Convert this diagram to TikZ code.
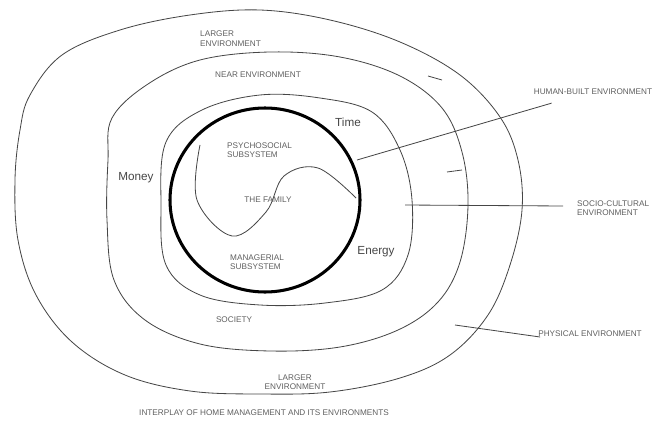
\documentclass[tikz,border=0pt]{standalone}
\usepackage{fontspec}
\setmainfont{Liberation Sans}
\usepackage{tikz}
\usetikzlibrary{positioning,calc}
\definecolor{traitC}{RGB}{70,70,70}
\definecolor{texteC}{RGB}{95,95,95}
\tikzset{
  zone/.style={draw=traitC, line width=0.7pt, smooth cycle, tension=0.6},
  cercle/.style={draw=black, line width=2.6pt},
  etiq/.style={font=\fontsize{7}{8}\selectfont, text=texteC, inner sep=0pt, align=left},
  grand/.style={font=\fontsize{10}{11}\selectfont, text=traitC, inner sep=0pt},
  fil/.style={draw=traitC, line width=0.7pt},
}

\begin{document}
\begin{tikzpicture}[x=0.03cm, y=-0.03cm]
  \useasboundingbox (0,0) rectangle (664,424);
  % environments
  \draw[zone] plot coordinates {(30,95) (62,55) (120,30) (190,15) (260,10) (330,20) (400,42)
    (460,75) (500,117) (518,160) (522,210) (510,265) (488,315) (450,355) (400,378) (330,392)
    (260,394) (190,391) (125,375) (72,342) (36,295) (18,240) (15,180) (20,130)};
  \draw[zone] plot coordinates {(112,118) (148,84) (200,60) (270,52) (340,57) (400,76) (442,108)
    (462,152) (468,205) (460,262) (438,302) (398,330) (340,347) (270,351) (200,344) (145,320)
    (114,280) (107,220) (108,160)};
  \draw[zone] plot coordinates {(166,142) (202,110) (260,95) (320,98) (372,112) (400,150)
    (412,200) (408,255) (382,290) (325,303) (260,305) (200,295) (166,265) (161,205)};
  % family
  \draw[cercle] (265,200) ellipse [x radius=95, y radius=92];
  \draw[fil] plot[smooth, tension=0.6] coordinates {(200,145) (197,200) (232,236) (266,212)
    (284,176) (318,168) (356,198)};
  % labels
  \node[etiq, anchor=north west] (largerA) at (200,31) {LARGER\\ENVIRONMENT};
  \node[etiq] (near) at (258,75) {NEAR ENVIRONMENT};
  \node[etiq, anchor=west] (psycho) at (227,150) {PSYCHOSOCIAL\\SUBSYSTEM};
  \node[etiq] (family) at (268,200) {THE FAMILY};
  \node[etiq, anchor=west] (manag) at (230,262) {MANAGERIAL\\SUBSYSTEM};
  \node[grand] (money) at (136,178) {Money};
  \node[grand] (time) at (348,122) {Time};
  \node[grand] (energy) at (376,252) {Energy};
  \node[etiq] (society) at (234,320) {SOCIETY};
  \node[etiq, align=center] (largerB) at (295,382) {LARGER\\ENVIRONMENT};
  \node[etiq] (human) at (593,92) {HUMAN-BUILT ENVIRONMENT};
  \node[etiq, anchor=west] (socio) at (577,208) {SOCIO-CULTURAL\\ENVIRONMENT};
  \node[etiq] (phys) at (590,334) {PHYSICAL ENVIRONMENT};
  \node[etiq] (titre) at (264,413) {INTERPLAY OF HOME MANAGEMENT AND ITS ENVIRONMENTS};
  % leaders
  \coordinate (hA) at (357,160);
  \coordinate (sA) at (405,205);
  \coordinate (pA) at (455,325);
  \draw[fil] (hA) -- ($(human.south west)+(18,8)$);
  \draw[fil] (sA) -- ($(socio.west)+(-14,-2)$);
  \draw[fil] (pA) -- ($(phys.west)+(2,3)$);
  \draw[fil] (428,76) -- (442,80);
  \draw[fil] (447,172) -- (462,170);
\end{tikzpicture}
\end{document}
